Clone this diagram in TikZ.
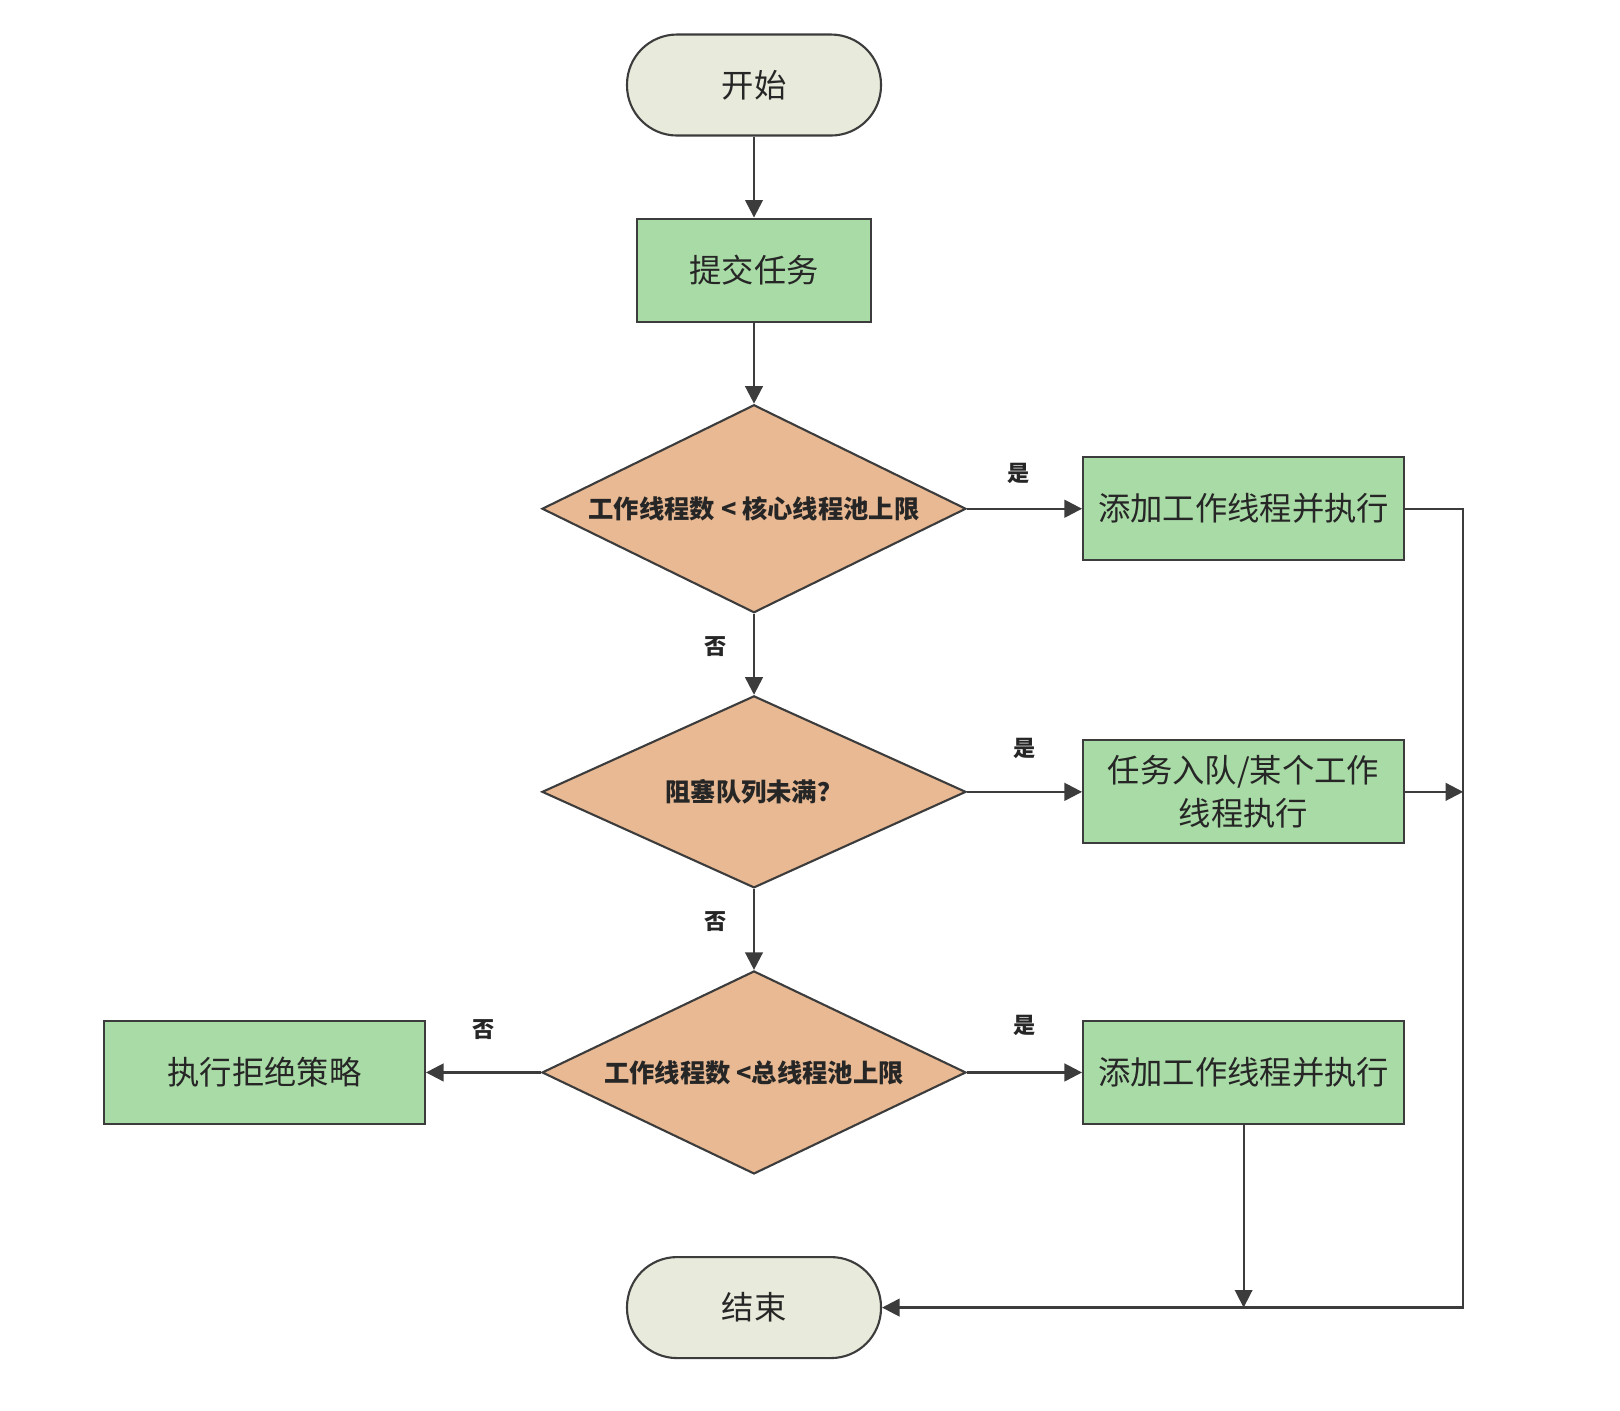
\documentclass[tikz,border=0pt]{standalone}
\usepackage{fontspec}
\setmainfont{Noto Sans CJK SC}
\usepackage{tikz}
\usetikzlibrary{shapes.geometric, arrows.meta, positioning}
\usepackage{xcolor}
\definecolor{termfill}{HTML}{E8EADB}
\definecolor{boxfill}{HTML}{A9DBA6}
\definecolor{decfill}{HTML}{E8B992}
\definecolor{edge}{HTML}{3C3C3C}
\tikzset{
  terminal/.style={
    rectangle, rounded corners=0.5cm,
    minimum width=2.54cm, minimum height=1.01cm,
    draw=edge, line width=0.6pt, fill=termfill,
    font=\fontsize{9.2pt}{12pt}\selectfont, text=black!85
  },
  block/.style={
    rectangle,
    minimum width=2.34cm, minimum height=1.03cm,
    align=center, inner sep=1pt,
    draw=edge, line width=0.6pt, fill=boxfill,
    font=\fontsize{9.2pt}{12.3pt}\selectfont, text=black!85
  },
  wide/.style={minimum width=3.21cm},
  decision/.style={
    diamond, aspect=2, inner sep=0pt,
    minimum width=4.24cm, minimum height=2.05cm,
    draw=edge, line width=0.6pt, fill=decfill,
    font=\fontsize{7.2pt}{9pt}\selectfont\bfseries, text=black!85
  },
  answer/.style={font=\fontsize{6.3pt}{7pt}\selectfont\bfseries, text=black!85},
  arrow/.style={-{Triangle[length=5pt, width=5pt]}, line width=0.7pt, edge}
}
\begin{document}
\begin{tikzpicture}[node distance=0.81cm and 1.15cm]
  \useasboundingbox (0,0) rectangle (16.2,-14.1);

  \node[terminal] (start) at (7.54,-0.85) {开始};

  \node[block, below=of start] (submit) {提交任务};

  \node[decision, below=of submit, minimum height=2.08cm] (core) {工作线程数 < 核心线程池上限};

  \node[block, wide, right=of core] (addcore) {添加工作线程并执行};

  \node[decision, below=of core, minimum height=1.92cm] (queue) {阻塞队列未满？};

  \node[block, wide, right=of queue] (enqueue) {任务入队/某个工作\\线程执行};

  \node[decision, below=of queue, minimum height=2.03cm] (maxpool) {工作线程数 <总线程池上限};

  \node[block, wide, right=of maxpool] (addmax) {添加工作线程并执行};

  \node[block, wide, left=of maxpool] (reject) {执行拒绝策略};

  \node[terminal, below=of maxpool] (stop) {结束};

  \coordinate[right=0.58cm of addcore.east] (rail);

  \draw[arrow] (start) -- (submit);
  \draw[arrow] (submit) -- (core);
  \draw[arrow] (core) -- node[answer, above=0.12cm, pos=0.45]{是} (addcore);
  \draw[arrow] (core) -- node[answer, left=0.14cm, pos=0.4]{否} (queue);
  \draw[arrow] (queue) -- node[answer, above=0.2cm]{是} (enqueue);
  \draw[arrow] (queue) -- node[answer, left=0.14cm, pos=0.4]{否} (maxpool);
  \draw[arrow] (maxpool) -- node[answer, above=0.24cm]{是} (addmax);
  \draw[arrow] (maxpool) -- node[answer, above=0.2cm]{否} (reject);
  \draw[arrow] (addcore.east) -- (rail) |- (stop.east);
  \draw[arrow] (enqueue.east) -- (enqueue.east -| rail);
  \draw[arrow, line width=0.5pt] (addmax.south) -- (addmax.south |- stop.east);

\end{tikzpicture}
\end{document}
